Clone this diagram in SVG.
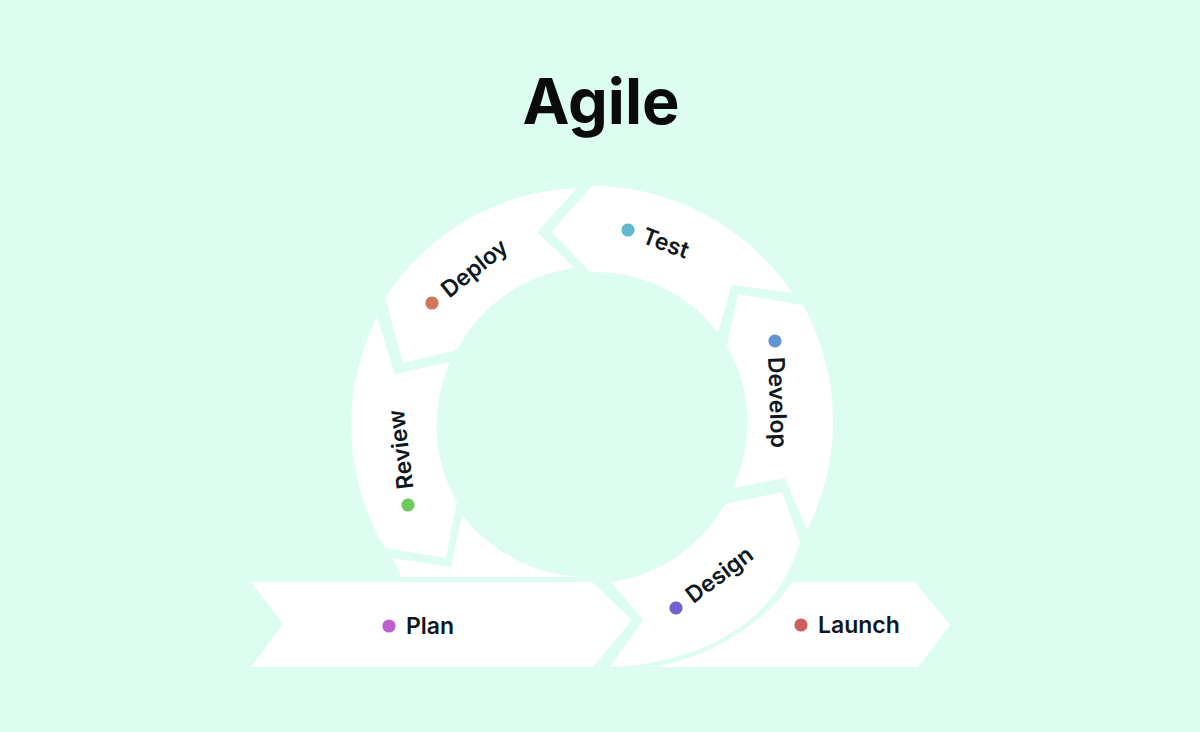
<svg xmlns="http://www.w3.org/2000/svg" width="1200" height="732" viewBox="0 0 1200 732">
<style>
.seg{fill:#ffffff}
.lbl{font-family:Inter,"Liberation Sans",sans-serif;font-weight:600;font-size:23px;fill:#0f1820}
.title{font-family:Inter,"Liberation Sans",sans-serif;font-weight:700;font-size:63px;fill:#0b0b0b}
</style>
<rect x="0" y="0" width="1200" height="732" fill="#dcfdef"/>
<text class="title" x="601" y="124" text-anchor="middle">Agile</text>
<g id="ring-tail">
<path class="seg" d="M392,558 L451,567 L462,515 A160,160 0 0 0 590,577 L402,577 A240,240 0 0 1 392,558 Z"/>
</g>
<g id="plan">
<path class="seg" d="M251,582 L592,582 L632,620 L593,667 L251,667 L283,624 Z"/>
<circle cx="389" cy="626" r="6.6" fill="#bf5fcf"/>
<text class="lbl" x="406" y="633.5">Plan</text>
</g>
<g id="design">
<path class="seg" d="M611,582 L643,620 L610,667 C690,664 775,630 800,542 L782,492 L725,504 A155,155 0 0 1 611,582 Z"/>
<g transform="translate(676,608) rotate(-37)">
<circle cx="0" cy="0" r="6.6" fill="#7361d2"/>
<text class="lbl" x="16" y="7.5">Design</text>
</g>
</g>
<g id="launch">
<path class="seg" d="M792,582 L915,582 L950,625 L918,667 L640,667 C705,665 770,618 792,582 Z"/>
<circle cx="801" cy="625" r="6.6" fill="#cd5f5f"/>
<text class="lbl" x="818" y="633">Launch</text>
</g>
<g id="develop">
<path class="seg" d="M803,305 L738,294 L727,346 A155,155 0 0 1 733,488 L785,478 L807,530 A240,240 0 0 0 803,305 Z"/>
<g transform="translate(775,341) rotate(88)">
<circle cx="0" cy="0" r="6.6" fill="#6594d2"/>
<text class="lbl" x="16" y="7.5">Develop</text>
</g>
</g>
<g id="test">
<path class="seg" d="M592,186 A240,240 0 0 1 792,293 L732,285 L718,333 A155,155 0 0 0 590,272 L551,232 Z"/>
<g transform="translate(628,230) rotate(20)">
<circle cx="0" cy="0" r="6.6" fill="#5fb8cd"/>
<text class="lbl" x="16" y="7.5">Test</text>
</g>
</g>
<g id="deploy">
<path class="seg" d="M577,188 L537,232 L575,268 A155,155 0 0 0 457,350 L403,363 L385,298 A240,240 0 0 1 577,188 Z"/>
<g transform="translate(432,303) rotate(-39)">
<circle cx="0" cy="0" r="6.6" fill="#d2765a"/>
<text class="lbl" x="16" y="7.5">Deploy</text>
</g>
</g>
<g id="review">
<path class="seg" d="M377,317 L395,374 L450,362 A155,155 0 0 0 457,502 L446,558 L385,548 A240,240 0 0 1 377,317 Z"/>
<g transform="translate(408,505) rotate(-97)">
<circle cx="0" cy="0" r="6.6" fill="#6dcb5e"/>
<text class="lbl" x="16" y="7.5">Review</text>
</g>
</g>
</svg>
